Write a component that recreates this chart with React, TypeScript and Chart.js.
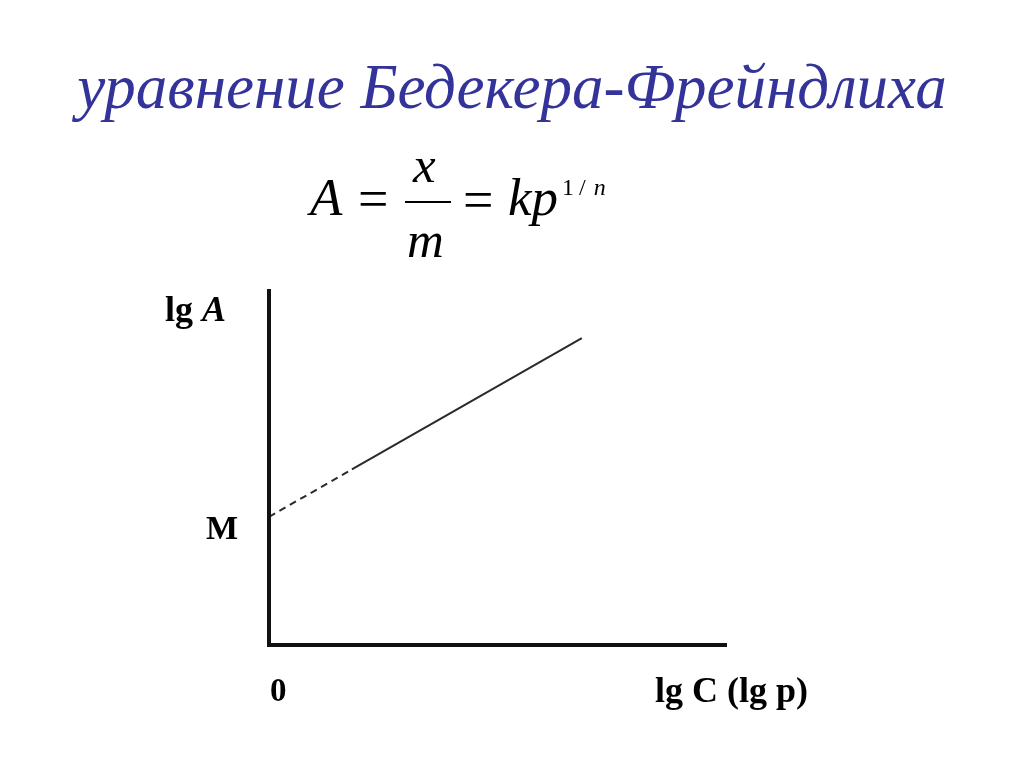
import { useEffect, useRef } from "react"
import { Chart, registerables } from "chart.js"

Chart.register(...registerables)

// Isotherm in log coordinates: dashed extrapolation to the y axis, then solid
const lgC = [0, 1.81, 6.83]
const lgA = [3.6, 4.93, 8.62]
const xRange = [0, 10]
const yRange = [0, 10]
const yAxisLabel = "lg A"
const xAxisLabel = "lg C (lg p)"
const originLabel = "0"
const interceptLabel = "M"

const labelsPlugin = {
  id: "freundlichLabels",
  afterDraw(chart: Chart) {
    const { ctx } = chart
    const x = chart.scales.x
    const y = chart.scales.y
    const x0 = x.getPixelForValue(0)
    const y0 = y.getPixelForValue(0)
    ctx.save()
    ctx.strokeStyle = "#111"
    ctx.lineWidth = 4
    ctx.lineCap = "butt"
    // axes
    ctx.beginPath()
    ctx.moveTo(x0, y.getPixelForValue(yRange[1]))
    ctx.lineTo(x0, y0 - 2)
    ctx.stroke()
    ctx.beginPath()
    ctx.moveTo(x0 - 2, y0)
    ctx.lineTo(x.getPixelForValue(xRange[1]), y0)
    ctx.stroke()

    ctx.fillStyle = "#000"
    ctx.textBaseline = "alphabetic"
    ctx.textAlign = "left"
    ctx.font = "bold 36px 'Liberation Serif'"
    const lgW = ctx.measureText("lg ").width
    ctx.fillText("lg ", 165, 321)
    ctx.font = "italic bold 36px 'Liberation Serif'"
    ctx.fillText(yAxisLabel.replace("lg ", ""), 165 + lgW, 321)

    ctx.font = "bold 34px 'Liberation Serif'"
    ctx.textAlign = "right"
    ctx.fillText(interceptLabel, 238, y.getPixelForValue(lgA[0]) + 22)
    ctx.textAlign = "left"
    ctx.font = "bold 33px 'Liberation Serif'"
    ctx.fillText(originLabel, x0 + 1, 701)
    ctx.font = "bold 36px 'Liberation Serif'"
    ctx.fillText(xAxisLabel, 655, 702)
    ctx.restore()
  },
}

function FreundlichChart() {
  const chartRef = useRef<HTMLCanvasElement>(null)
  const chartInstance = useRef<Chart | null>(null)

  useEffect(() => {
    if (!chartRef.current) return
    if (chartInstance.current) chartInstance.current.destroy()
    const ctx = chartRef.current.getContext("2d")
    if (!ctx) return

    chartInstance.current = new Chart(ctx, {
      type: "line",
      data: {
        datasets: [
          {
            data: lgC.map((v, i) => ({ x: v, y: lgA[i] })),
            borderColor: "#2a2a2a",
            borderWidth: 2,
            pointRadius: 0,
            fill: false,
            segment: {
              borderDash: (c: any) => (c.p0DataIndex === 0 ? [7, 5] : undefined),
            },
          },
        ],
      },
      options: {
        responsive: false,
        animation: false,
        layout: { padding: { left: 269, right: 297, top: 289, bottom: 122 } },
        plugins: { legend: { display: false }, tooltip: { enabled: false } },
        scales: {
          x: { type: "linear", display: false, min: xRange[0], max: xRange[1] },
          y: { type: "linear", display: false, min: yRange[0], max: yRange[1] },
        },
      },
      plugins: [labelsPlugin],
    })

    return () => {
      if (chartInstance.current) chartInstance.current.destroy()
    }
  }, [])

  return <canvas ref={chartRef} width={1024} height={767} style={{ position: "absolute", left: 0, top: 0 }} />
}

const serif = "'Liberation Serif', 'Times New Roman', serif"

// place a piece of the formula by its baseline (line-height 1)
function Piece({ left, baseline, size, italic, children }: any) {
  return (
    <span
      style={{
        position: "absolute",
        left,
        top: baseline - 0.8375 * size,
        fontSize: size,
        lineHeight: 1,
        fontStyle: italic ? "italic" : "normal",
        whiteSpace: "nowrap",
      }}
    >
      {children}
    </span>
  )
}

export default function App() {
  return (
    <div style={{ position: "absolute", left: 0, top: 0, width: 1024, height: 767, background: "#fff", overflow: "hidden" }}>
      <FreundlichChart />
      <div
        style={{
          position: "absolute",
          left: 0,
          width: 1024,
          top: 47,
          textAlign: "center",
          paddingLeft: 0,
          fontFamily: serif,
          fontStyle: "italic",
          fontSize: 63,
          color: "#333399",
          lineHeight: "80px",
          whiteSpace: "nowrap",
        }}
      >
        уравнение Бедекера-Фрейндлиха
      </div>
      <div style={{ position: "absolute", left: 0, top: 0, fontFamily: serif, color: "#000" }}>
        <Piece left={310} baseline={215} size={53} italic>A</Piece>
        <Piece left={358} baseline={217} size={54}>=</Piece>
        <Piece left={413} baseline={183} size={51} italic>x</Piece>
        <span style={{ position: "absolute", left: 405, top: 201, width: 46, height: 0, borderTop: "2px solid #000" }} />
        <Piece left={407} baseline={258} size={51} italic>m</Piece>
        <Piece left={463} baseline={218} size={54}>=</Piece>
        <Piece left={508} baseline={215} size={53} italic>kp</Piece>
        <Piece left={562} baseline={195} size={24}>
          1<span style={{ margin: "0 5px" }}>/</span><span style={{ fontStyle: "italic", marginLeft: 3 }}>n</span>
        </Piece>
      </div>
    </div>
  )
}
